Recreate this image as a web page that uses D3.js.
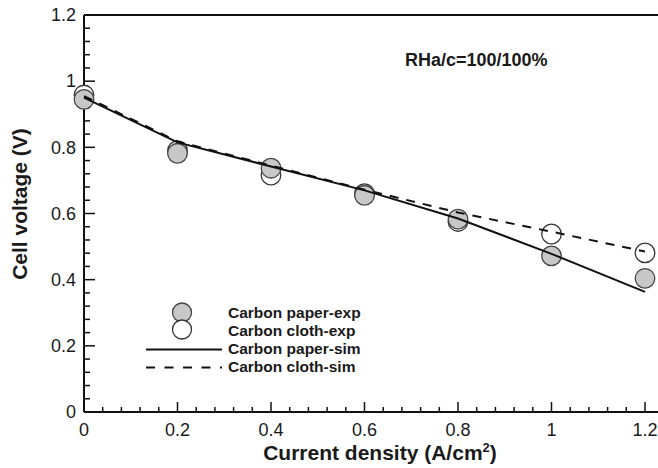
<!DOCTYPE html>
<html>
<head>
<meta charset="utf-8">
<script src="https://cdn.jsdelivr.net/npm/d3@7"></script>
<style>
  body { margin: 0; background: #fff; }
  #viz text { font-family: 'Liberation Sans', Arial, sans-serif; fill: #1a1a1a; }
</style>
</head>
<body>
<div id="viz"></div>
<script>
// data
const current = [0, 0.2, 0.4, 0.6, 0.8, 1.0, 1.2];
const paperExp = [0.945, 0.782, 0.737, 0.655, 0.583, 0.472, 0.404];
const clothExp = [0.958, 0.790, 0.716, 0.660, 0.576, 0.538, 0.481];
const paperSim = [0.950, 0.815, 0.742, 0.670, 0.585, 0.478, 0.363];
const clothSim = [0.955, 0.818, 0.745, 0.672, 0.603, 0.545, 0.485];
const xTicks = [0, 0.2, 0.4, 0.6, 0.8, 1, 1.2];
const yTicks = [0, 0.2, 0.4, 0.6, 0.8, 1, 1.2];
const legendLabels = ['Carbon paper-exp', 'Carbon cloth-exp', 'Carbon paper-sim', 'Carbon cloth-sim'];

const W = 658, H = 468;
const margin = {top: 15, right: 13, bottom: 56, left: 84};
const width = W - margin.left - margin.right;   // plot ends at 645
const height = H - margin.top - margin.bottom;  // plot ends at 412

const x = d3.scaleLinear().domain([0, 1.2]).range([0, width]);
const y = d3.scaleLinear().domain([0, 1.2]).range([height, 0]);

const svg = d3.select('#viz')
  .append('svg')
  .attr('width', W)
  .attr('height', H)
  .append('g')
  .attr('transform', `translate(${margin.left},${margin.top})`);

const minor = d3.range(0, 1.2001, 0.04);
const isMajor = d => Math.abs(d / 0.2 - Math.round(d / 0.2)) < 1e-6;

// bottom axis, ticks pointing inward
const xAxis = svg.append('g').attr('transform', `translate(0,${height})`);
xAxis.append('line')
  .attr('x1', 0).attr('x2', W - margin.left)
  .attr('stroke', '#111').attr('stroke-width', 2);
xAxis.selectAll('.minor').data(minor).join('line')
  .attr('x1', d => x(d)).attr('x2', d => x(d))
  .attr('y1', 0).attr('y2', d => isMajor(d) ? -10 : -5)
  .attr('stroke', '#111').attr('stroke-width', 1.5);
xAxis.selectAll('.lbl').data(xTicks).join('text')
  .attr('x', d => x(d)).attr('y', 23.5)
  .attr('text-anchor', 'middle')
  .style('font-size', '18px')
  .text(d => d3.format('~g')(d));

// left axis
const yAxis = svg.append('g');
yAxis.append('line')
  .attr('y1', 0).attr('y2', height)
  .attr('stroke', '#111').attr('stroke-width', 2);
yAxis.selectAll('.minor').data(minor).join('line')
  .attr('y1', d => y(d)).attr('y2', d => y(d))
  .attr('x1', 0).attr('x2', d => isMajor(d) ? 11 : 6)
  .attr('stroke', '#111').attr('stroke-width', 1.5);
yAxis.selectAll('.lbl').data(yTicks).join('text')
  .attr('x', -8).attr('y', d => y(d)).attr('dy', '0.35em')
  .attr('text-anchor', 'end')
  .style('font-size', '18px')
  .text(d => d3.format('~g')(d));

// top frame line
svg.append('line')
  .attr('x1', 0).attr('x2', W - margin.left)
  .attr('y1', 0).attr('y2', 0)
  .attr('stroke', '#111').attr('stroke-width', 2);

// axis titles
svg.append('text')
  .attr('x', 296).attr('y', height + 48)
  .attr('text-anchor', 'middle')
  .style('font-size', '21px').style('font-weight', 'bold')
  .html('Current density (A/cm<tspan dy="-8" font-size="13px">2</tspan><tspan dy="8">)</tspan>');

svg.append('text')
  .attr('transform', `translate(${27 - margin.left},${204 - margin.top}) rotate(-90)`)
  .attr('text-anchor', 'middle')
  .style('font-size', '21px').style('font-weight', 'bold')
  .text('Cell voltage (V)');

svg.append('text')
  .attr('x', 405 - margin.left).attr('y', 66 - margin.top)
  .style('font-size', '18px').style('font-weight', 'bold')
  .text('RHa/c=100/100%');

// experimental points
const r = 9.8;
svg.selectAll('.cloth').data(current).join('circle')
  .attr('cx', d => x(d)).attr('cy', (d, i) => y(clothExp[i])).attr('r', r)
  .attr('fill', '#fff').attr('stroke', '#333').attr('stroke-width', 1.3);
svg.selectAll('.paper').data(current).join('circle')
  .attr('cx', d => x(d)).attr('cy', (d, i) => y(paperExp[i])).attr('r', r)
  .attr('fill', '#c8c8c8').attr('stroke', '#444').attr('stroke-width', 1.3);

// simulated curves
const line = d3.line().x(d => x(d[0])).y(d => y(d[1]));
svg.append('path')
  .datum(current.map((c, i) => [c, clothSim[i]]))
  .attr('d', line).attr('fill', 'none')
  .attr('stroke', '#111').attr('stroke-width', 2).attr('stroke-dasharray', '9,8');
svg.append('path')
  .datum(current.map((c, i) => [c, paperSim[i]]))
  .attr('d', line).attr('fill', 'none')
  .attr('stroke', '#111').attr('stroke-width', 2);

// legend
const leg = svg.append('g').attr('transform', `translate(${146 - margin.left},${312.5 - margin.top})`);
leg.append('circle').attr('cx', 36).attr('cy', 0).attr('r', 9.5)
  .attr('fill', '#c8c8c8').attr('stroke', '#444').attr('stroke-width', 1.3);
leg.append('circle').attr('cx', 36).attr('cy', 17).attr('r', 9.5)
  .attr('fill', '#fff').attr('stroke', '#333').attr('stroke-width', 1.3);
leg.append('line').attr('x1', 0).attr('x2', 76).attr('y1', 37).attr('y2', 37)
  .attr('stroke', '#111').attr('stroke-width', 2);
leg.append('line').attr('x1', 0).attr('x2', 76).attr('y1', 55).attr('y2', 55)
  .attr('stroke', '#111').attr('stroke-width', 2).attr('stroke-dasharray', '9,9.5');
leg.selectAll('.lt').data(legendLabels).join('text')
  .attr('x', 82).attr('y', (d, i) => 5.5 + i * 18)
  .style('font-size', '15.5px').style('font-weight', 'bold')
  .text(d => d);
</script>
</body>
</html>
